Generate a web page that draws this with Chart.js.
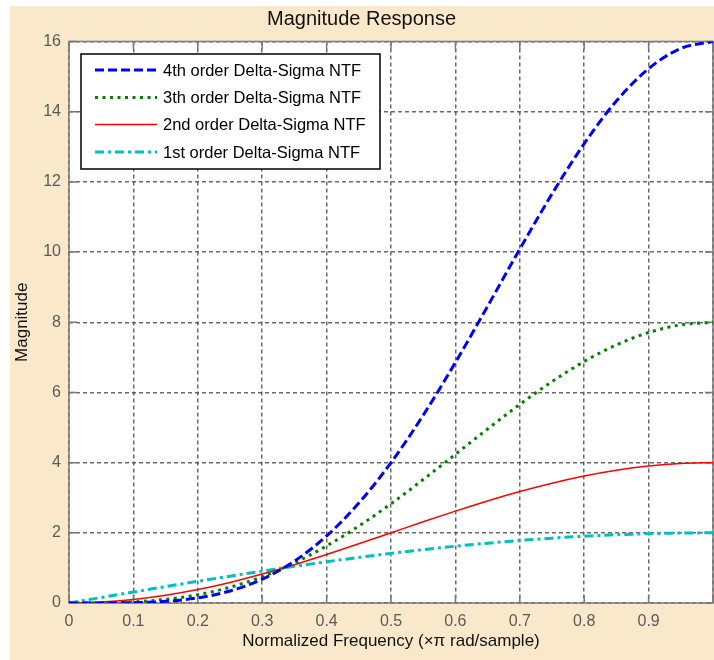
<!DOCTYPE html>
<html>
<head>
<meta charset="utf-8">
<title>Magnitude Response</title>
<script src="https://cdn.jsdelivr.net/npm/chart.js@4.4.1/dist/chart.umd.min.js"></script>
<style>
    html, body { margin: 0; padding: 0; background: #ffffff; }
    canvas { display: block; }
</style>
</head>
<body>
<canvas id="magChart" width="714" height="660"></canvas>
<script>
// normalized frequency (x pi rad/sample)
const freq = [0, 0.05, 0.1, 0.15, 0.2, 0.25, 0.3, 0.35, 0.4, 0.45, 0.5,
    0.55, 0.6, 0.65, 0.7, 0.75, 0.8, 0.85, 0.9, 0.95, 1.0];

// |NTF| for each modulator order
const ntf4 = [0, 0.001, 0.010, 0.048, 0.146, 0.343, 0.680, 1.193, 1.910, 2.847, 4.000,
    5.350, 6.854, 8.457, 10.085, 11.657, 13.090, 14.304, 15.226, 15.804, 16.000];
const ntf3 = [0, 0.004, 0.031, 0.102, 0.236, 0.448, 0.749, 1.141, 1.625, 2.192, 2.828,
    3.518, 4.236, 4.959, 5.659, 6.309, 6.882, 7.355, 7.708, 7.926, 8.000];
const ntf2 = [0, 0.025, 0.098, 0.218, 0.382, 0.586, 0.824, 1.092, 1.382, 1.687, 2.000,
    2.313, 2.618, 2.908, 3.176, 3.414, 3.618, 3.782, 3.902, 3.975, 4.000];
const ntf1 = [0, 0.157, 0.313, 0.467, 0.618, 0.765, 0.908, 1.045, 1.176, 1.299, 1.414,
    1.521, 1.618, 1.705, 1.782, 1.848, 1.902, 1.945, 1.975, 1.994, 2.000];

const seriesLabels = [
    '4th order Delta-Sigma NTF',
    '3th order Delta-Sigma NTF',
    '2nd order Delta-Sigma NTF',
    '1st order Delta-Sigma NTF'
];

const FONT = "'Liberation Sans', Arial, sans-serif";
const FIG_BG = '#fae8cb';
const AXIS_GRAY = '#7a7a7a';

function toPoints(ys) {
    return ys.map((y, i) => ({ x: freq[i], y: y }));
}

// figure background, white axes area and the axes box with inner ticks
const axesBox = {
    id: 'axesBox',
    beforeDraw(chart) {
        const { ctx, chartArea: a } = chart;
        ctx.save();
        ctx.fillStyle = FIG_BG;
        ctx.fillRect(10, 6, chart.width - 10, chart.height - 6);
        ctx.fillStyle = '#ffffff';
        ctx.fillRect(a.left, a.top, a.right - a.left, a.bottom - a.top);
        ctx.restore();
    },
    beforeDatasetsDraw(chart) {
        const { ctx, chartArea: a, scales } = chart;
        const tickLen = 8;
        ctx.save();
        ctx.strokeStyle = AXIS_GRAY;
        ctx.lineWidth = 1.5;
        ctx.beginPath();
        scales.x.ticks.forEach(t => {
            const px = scales.x.getPixelForValue(t.value);
            ctx.moveTo(px, a.bottom);
            ctx.lineTo(px, a.bottom - tickLen);
            ctx.moveTo(px, a.top);
            ctx.lineTo(px, a.top + tickLen);
        });
        scales.y.ticks.forEach(t => {
            const py = scales.y.getPixelForValue(t.value);
            ctx.moveTo(a.left, py);
            ctx.lineTo(a.left + tickLen, py);
            ctx.moveTo(a.right, py);
            ctx.lineTo(a.right - tickLen, py);
        });
        ctx.stroke();
        ctx.strokeRect(a.left, a.top, a.right - a.left, a.bottom - a.top);
        ctx.restore();
    }
};

// boxed legend in the upper left corner of the axes
const boxLegend = {
    id: 'boxLegend',
    afterDatasetsDraw(chart) {
        const { ctx } = chart;
        const x0 = 81, y0 = 54, w = 299, h = 115;
        const rowY = [70, 97.5, 124.5, 152];
        ctx.save();
        ctx.fillStyle = '#ffffff';
        ctx.fillRect(x0, y0, w, h);
        ctx.strokeStyle = '#000000';
        ctx.lineWidth = 1.5;
        ctx.strokeRect(x0, y0, w, h);
        chart.data.datasets.forEach((ds, i) => {
            ctx.beginPath();
            ctx.strokeStyle = ds.borderColor;
            ctx.lineWidth = ds.borderWidth;
            ctx.setLineDash(ds.borderDash || []);
            ctx.moveTo(95, rowY[i]);
            ctx.lineTo(157, rowY[i]);
            ctx.stroke();
            ctx.setLineDash([]);
            ctx.fillStyle = '#000000';
            ctx.font = '16.5px ' + FONT;
            ctx.textBaseline = 'middle';
            ctx.fillText(ds.label, 163, rowY[i] + 1);
        });
        ctx.restore();
    }
};

const ctx = document.getElementById('magChart').getContext('2d');
new Chart(ctx, {
    type: 'line',
    data: {
        datasets: [{
            label: seriesLabels[0],
            data: toPoints(ntf4),
            borderColor: '#0000ff',
            borderWidth: 3,
            borderDash: [9, 4]
        }, {
            label: seriesLabels[1],
            data: toPoints(ntf3),
            borderColor: '#008000',
            borderWidth: 3,
            borderDash: [3, 4.5]
        }, {
            label: seriesLabels[2],
            data: toPoints(ntf2),
            borderColor: '#ff0000',
            borderWidth: 1.5
        }, {
            label: seriesLabels[3],
            data: toPoints(ntf1),
            borderColor: '#00bfbf',
            borderWidth: 3,
            borderDash: [9, 4, 3, 4]
        }]
    },
    options: {
        responsive: false,
        animation: false,
        cubicInterpolationMode: 'monotone',
        pointRadius: 0,
        fill: false,
        layout: {
            padding: { left: 10, top: 6, right: 1, bottom: 0 }
        },
        scales: {
            x: {
                type: 'linear',
                min: 0,
                max: 1,
                afterFit(scale) {
                    scale.height = 57;
                    scale.paddingLeft = 0;
                    scale.paddingRight = 0;
                },
                grid: {
                    color: 'rgba(80, 80, 80, 0.85)',
                    lineWidth: 1.5,
                    drawTicks: false
                },
                border: { display: false, dash: [4, 3] },
                ticks: {
                    stepSize: 0.1,
                    autoSkip: false,
                    maxRotation: 0,
                    padding: 9,
                    color: '#5a5a5a',
                    font: { family: FONT, size: 16 },
                    callback: v => (v >= 1 ? '' : String(Math.round(v * 10) / 10))
                },
                title: {
                    display: true,
                    text: 'Normalized Frequency (\u00d7\u03c0 rad/sample)',
                    color: '#111111',
                    font: { family: FONT, size: 17 },
                    padding: { top: 0, bottom: 8 }
                }
            },
            y: {
                min: 0,
                max: 16,
                afterFit(scale) { scale.width = 59; },
                grid: {
                    color: 'rgba(80, 80, 80, 0.85)',
                    lineWidth: 1.5,
                    drawTicks: false
                },
                border: { display: false, dash: [4, 3] },
                ticks: {
                    stepSize: 2,
                    padding: 8,
                    color: '#5a5a5a',
                    font: { family: FONT, size: 16 }
                },
                title: {
                    display: true,
                    text: 'Magnitude',
                    color: '#111111',
                    font: { family: FONT, size: 17 },
                    padding: { top: 2, bottom: 0 }
                }
            }
        },
        plugins: {
            legend: { display: false },
            tooltip: { enabled: false },
            title: {
                display: true,
                text: 'Magnitude Response',
                color: '#111111',
                font: { family: FONT, size: 20, weight: 'normal' },
                padding: { top: 1, bottom: 10.5 }
            }
        }
    },
    plugins: [axesBox, boxLegend]
});
</script>
</body>
</html>
